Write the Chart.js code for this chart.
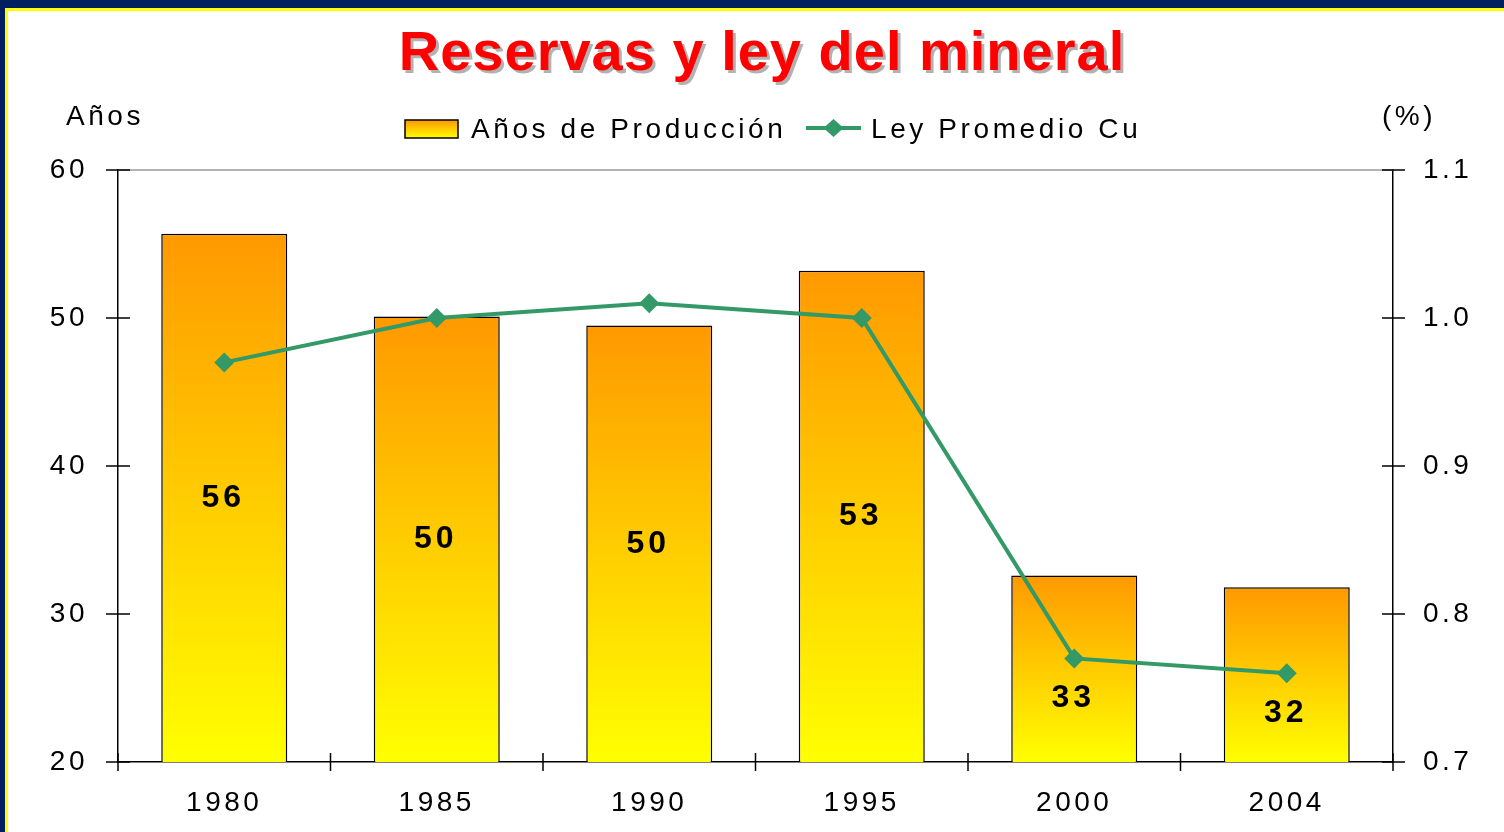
<!DOCTYPE html>
<html>
<head>
<meta charset="utf-8">
<script src="https://cdn.jsdelivr.net/npm/chart.js@4"></script>
<style>
  html, body { margin: 0; padding: 0; background: #fff; overflow: hidden; }
  #wrap { position: relative; width: 1504px; height: 832px; }
</style>
</head>
<body>
<div id="wrap"><canvas id="ReservasChart"></canvas></div>
<script>
const years = ['1980', '1985', '1990', '1995', '2000', '2004'];
const aniosProduccion = [55.7, 50.1, 49.5, 53.2, 32.6, 31.8];
const leyPromedioCu = [0.97, 1.00, 1.01, 1.00, 0.77, 0.76];
const leftTicks = [20, 30, 40, 50, 60];
const rightTicks = [0.7, 0.8, 0.9, 1.0, 1.1];

const FONT = '"Liberation Sans", Arial, sans-serif';
const GREEN = '#339966';

function barGradient(ctx, top, bottom) {
    const g = ctx.createLinearGradient(0, top, 0, bottom);
    g.addColorStop(0, '#FF9900'); // top
    g.addColorStop(1, '#FFFF00'); // bottom
    return g;
}

function setFont(ctx, font, spacing) {
    ctx.font = font;
    ctx.letterSpacing = spacing;
}

// frame, title, legend, axis captions
const decorPlugin = {
    id: 'decor',
    beforeDraw(chart) {
        const ctx = chart.ctx;
        const w = chart.width, h = chart.height;
        ctx.save();
        ctx.fillStyle = '#fff';
        ctx.fillRect(0, 0, w, h);
        ctx.fillStyle = '#001F5F';
        ctx.fillRect(0, 0, w, 8);
        ctx.fillRect(0, 0, 5, h);
        ctx.fillStyle = '#FFFF00';
        ctx.fillRect(5, 8, w - 5, 3);
        ctx.fillRect(5, 8, 3, h - 8);
        ctx.restore();
        ctx.letterSpacing = '3.5px';
    },
    afterDraw(chart) {
        const ctx = chart.ctx;
        ctx.save();

        // title
        setFont(ctx, 'bold 56px ' + FONT, '1px');
        ctx.textAlign = 'center';
        ctx.textBaseline = 'alphabetic';
        ctx.fillStyle = '#FF0000';
        ctx.shadowColor = 'rgba(0,0,0,0.3)';
        ctx.shadowOffsetX = 3;
        ctx.shadowOffsetY = 3;
        ctx.fillText('Reservas y ley del mineral', 762, 70);
        ctx.shadowColor = 'transparent';

        // axis captions
        setFont(ctx, '28px ' + FONT, '3.5px');
        ctx.fillStyle = '#000';
        ctx.textAlign = 'center';
        ctx.fillText('Años', 105, 125);
        ctx.fillText('(%)', 1409, 125);

        // legend
        setFont(ctx, '28px ' + FONT, '3.6px');
        ctx.textAlign = 'left';
        ctx.fillStyle = barGradient(ctx, 120, 138);
        ctx.fillRect(405, 120, 53, 18);
        ctx.strokeStyle = '#000';
        ctx.lineWidth = 1.5;
        ctx.strokeRect(405, 120, 53, 18);
        ctx.fillStyle = '#000';
        ctx.fillText('Años de Producción', 471, 138);

        ctx.strokeStyle = GREEN;
        ctx.lineWidth = 4;
        ctx.beginPath();
        ctx.moveTo(806, 128);
        ctx.lineTo(861, 128);
        ctx.stroke();
        ctx.fillStyle = GREEN;
        ctx.beginPath();
        const cx = 833.5;
        ctx.moveTo(cx - 10, 128);
        ctx.lineTo(cx, 119);
        ctx.lineTo(cx + 10, 128);
        ctx.lineTo(cx, 137);
        ctx.closePath();
        ctx.fill();
        ctx.fillStyle = '#000';
        ctx.fillText('Ley Promedio Cu', 871, 138);

        ctx.restore();
        ctx.letterSpacing = '3.5px';
    }
};

// top border line and the tick marks that cross the axes
const axisPlugin = {
    id: 'axisMarks',
    afterDraw(chart) {
        const ctx = chart.ctx;
        const a = chart.chartArea;
        const y = chart.scales.y, y1 = chart.scales.y1;
        ctx.save();
        ctx.strokeStyle = '#999';
        ctx.lineWidth = 1.5;
        ctx.beginPath();
        ctx.moveTo(a.left, a.top);
        ctx.lineTo(a.right, a.top);
        ctx.stroke();

        ctx.strokeStyle = '#000';
        ctx.lineWidth = 1.5;
        ctx.beginPath();
        leftTicks.forEach(v => {
            const py = y.getPixelForValue(v);
            ctx.moveTo(a.left - 12, py);
            ctx.lineTo(a.left + 12, py);
        });
        rightTicks.forEach(v => {
            const py = y1.getPixelForValue(v);
            ctx.moveTo(a.right - 11, py);
            ctx.lineTo(a.right + 12, py);
        });
        const step = (a.right - a.left) / years.length;
        for (let i = 0; i <= years.length; i++) {
            const px = a.left + i * step;
            ctx.moveTo(px, a.bottom - 9);
            ctx.lineTo(px, a.bottom + 9);
        }
        ctx.stroke();
        ctx.restore();
    }
};

// bar value labels, pushed down below the line marker when they would touch it
const valueLabels = {
    id: 'valueLabels',
    afterDatasetsDraw(chart) {
        const ctx = chart.ctx;
        const bottom = chart.chartArea.bottom;
        const bars = chart.getDatasetMeta(0).data;
        const pts = chart.getDatasetMeta(1).data;
        ctx.save();
        setFont(ctx, 'bold 32px ' + FONT, '4px');
        ctx.fillStyle = '#000';
        ctx.textAlign = 'center';
        ctx.textBaseline = 'middle';
        bars.forEach((bar, i) => {
            const mid = (bar.y + Math.min(bar.base, bottom)) / 2;
            const ly = Math.max(mid, pts[i].y + 40);
            ctx.fillText(String(Math.round(aniosProduccion[i])), bar.x - 1, ly);
        });
        ctx.restore();
        ctx.letterSpacing = '3.5px';
    }
};

document.addEventListener('DOMContentLoaded', () => {
    const ctx = document.getElementById('ReservasChart')?.getContext('2d');
    if (!ctx) return;

    new Chart(ctx, {
        type: 'bar',
        data: {
            labels: years,
            datasets: [{
                label: 'Años de Producción',
                data: aniosProduccion,
                yAxisID: 'y',
                order: 2,
                backgroundColor: (c) => {
                    const chart = c.chart;
                    if (!chart.chartArea || c.type !== 'data') return '#FFCC00';
                    const top = chart.scales.y.getPixelForValue(aniosProduccion[c.dataIndex]);
                    return barGradient(chart.ctx, top, chart.chartArea.bottom);
                },
                borderColor: '#000',
                borderWidth: 1.5,
                categoryPercentage: 1,
                barPercentage: 0.593,
            }, {
                type: 'line',
                label: 'Ley Promedio Cu',
                data: leyPromedioCu,
                yAxisID: 'y1',
                order: 1,
                borderColor: GREEN,
                borderWidth: 4,
                backgroundColor: GREEN,
                pointStyle: 'rectRot',
                pointRadius: 10,
                pointBorderWidth: 0,
                pointBackgroundColor: GREEN,
                tension: 0,
            }]
        },
        options: {
            responsive: true,
            maintainAspectRatio: false,
            animation: false,
            layout: { padding: { top: 170, left: 0, right: 0, bottom: 0 } },
            plugins: {
                legend: { display: false },
                title: { display: false },
                tooltip: { enabled: true, mode: 'index', intersect: false },
            },
            scales: {
                x: {
                    grid: { display: false },
                    border: { display: true, color: '#000', width: 1.5 },
                    ticks: {
                        color: '#000',
                        font: { family: FONT, size: 28 },
                        padding: 16,
                    },
                    afterFit: (s) => { s.height = 70; },
                },
                y: {
                    position: 'left',
                    min: 20,
                    max: 60,
                    grid: { display: false, drawTicks: false },
                    border: { display: true, color: '#000', width: 1.5 },
                    ticks: {
                        stepSize: 10,
                        color: '#000',
                        font: { family: FONT, size: 28 },
                        padding: 30,
                    },
                    afterFit: (s) => { s.width = 118; },
                },
                y1: {
                    position: 'right',
                    min: 0.7,
                    max: 1.1,
                    grid: { display: false, drawTicks: false },
                    border: { display: true, color: '#000', width: 1.5 },
                    ticks: {
                        stepSize: 0.1,
                        color: '#000',
                        font: { family: FONT, size: 28 },
                        padding: 30,
                        callback: (v) => Number(v).toFixed(1),
                    },
                    afterFit: (s) => { s.width = 111; },
                }
            }
        },
        plugins: [decorPlugin, axisPlugin, valueLabels]
    });
});
</script>
</body>
</html>
